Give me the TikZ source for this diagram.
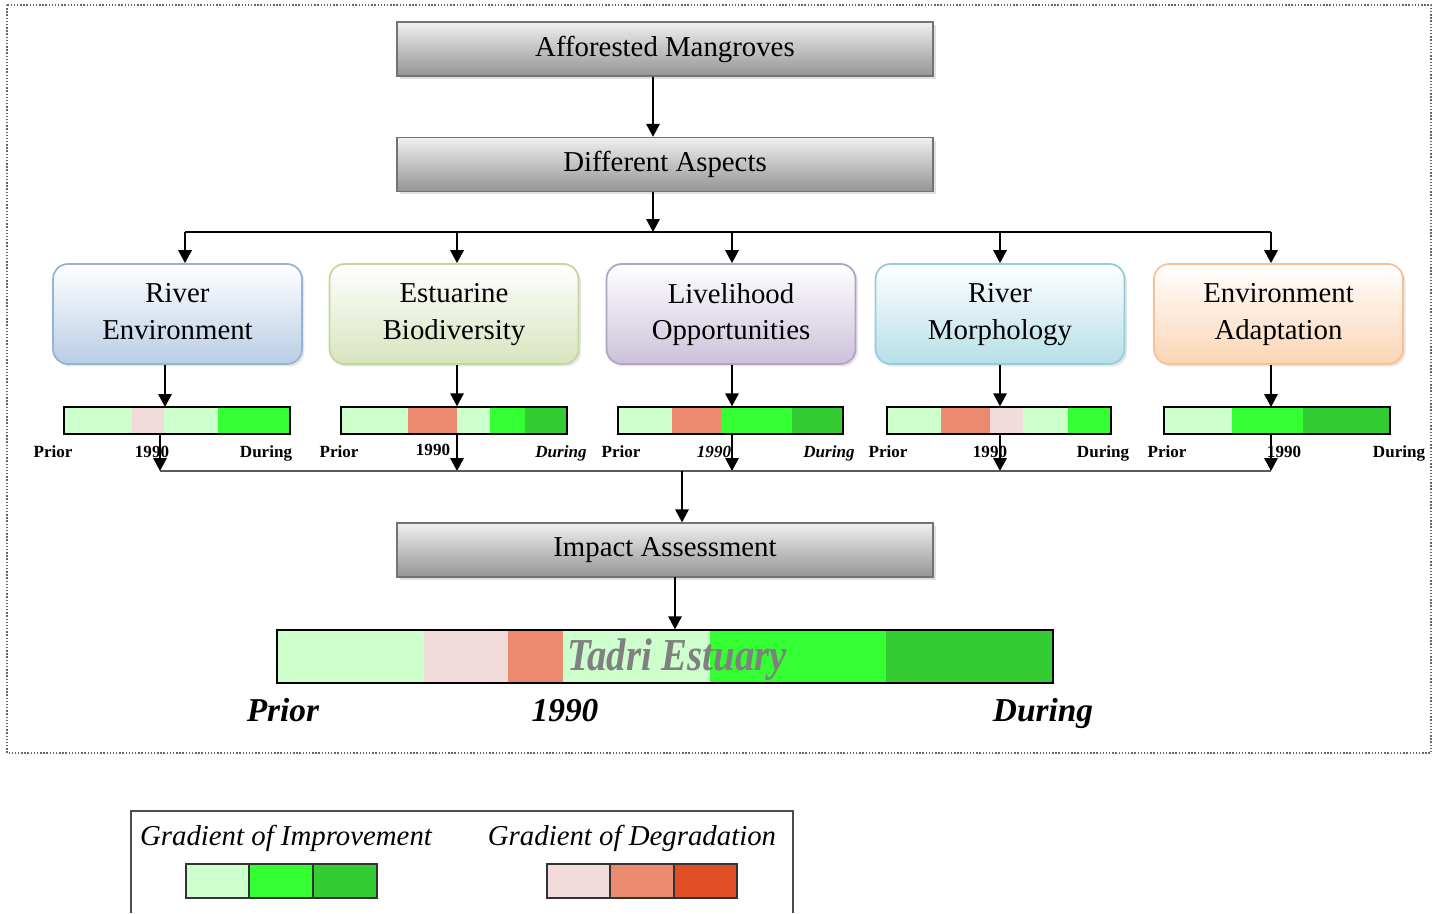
\documentclass[tikz,border=0pt]{standalone}
\usepackage{fontspec}
\setmainfont{Liberation Serif}
\usetikzlibrary{positioning,shadows,arrows.meta}

\definecolor{envline}{HTML}{95B3D7}
\definecolor{envfill}{HTML}{B9CDE5}
\definecolor{bioline}{HTML}{C3D69B}
\definecolor{biofill}{HTML}{D7E4BD}
\definecolor{livline}{HTML}{B3A2C7}
\definecolor{livfill}{HTML}{CCC1DA}
\definecolor{morline}{HTML}{93CDDD}
\definecolor{morfill}{HTML}{B7DEE8}
\definecolor{adaline}{HTML}{FAC090}
\definecolor{adafill}{HTML}{FCD5B5}
\definecolor{lgreen}{HTML}{CCFFCC}
\definecolor{mgreen}{HTML}{33FF33}
\definecolor{dgreen}{HTML}{33CC33}
\definecolor{lpink}{HTML}{F2DCDB}
\definecolor{salmon}{HTML}{EC8A6F}
\definecolor{dred}{HTML}{E04E25}

\tikzstyle{greybox} = [rectangle, draw=black!55, line width=0.8pt, top color=black!6, bottom color=black!42, minimum width=10.72cm, minimum height=1.08cm, font=\fontsize{16.4}{20}\selectfont, drop shadow={shadow xshift=0.06cm, shadow yshift=-0.06cm, opacity=0.25}]
\tikzstyle{aspect} = [rectangle, rounded corners=0.3cm, line width=1pt, top color=white, minimum width=4.98cm, minimum height=2cm, align=center, text depth=0.1cm, font=\fontsize{16.4}{21}\selectfont, drop shadow={shadow xshift=0.05cm, shadow yshift=-0.05cm, opacity=0.2}]
\tikzstyle{bar} = [rectangle, draw, line width=0.8pt, minimum height=0.54cm, inner sep=0pt]
\tikzstyle{lbl} = [font=\fontsize{9.7}{11}\selectfont\bfseries, inner sep=0pt, anchor=base]
\tikzstyle{biglbl} = [font=\fontsize{19}{22}\selectfont\bfseries\itshape, inner sep=0pt, anchor=base]
\tikzstyle{legtext} = [font=\fontsize{16.4}{20}\selectfont\itshape, inner sep=0pt, anchor=base]
\tikzstyle{swatch} = [draw=black!80, line width=0.8pt]
\tikzstyle{line} = [draw, line width=1pt, -{Triangle[length=0.26cm, width=0.27cm]}]

\begin{document}
\begin{tikzpicture}[x=0.02cm, y=-0.02cm]
	\useasboundingbox (0,0) rectangle (1435,913);
	\draw[black!60, densely dotted, line width=0.8pt] (7,5) rectangle (1431,753);
	
	\node [greybox] (mangroves) at (665,49) {Afforested Mangroves};
	\node [greybox] (aspects) at (665,164.5) {Different Aspects};
	
	\node [aspect, draw=envline, bottom color=envfill] (env) at (177.5,314) {River\\Environment};
	\node [aspect, draw=bioline, bottom color=biofill] (bio) at (454,314) {Estuarine\\Biodiversity};
	\node [aspect, draw=livline, bottom color=livfill] (liv) at (731,314) {Livelihood\\Opportunities};
	\node [aspect, draw=morline, bottom color=morfill] (morph) at (1000,314) {River\\Morphology};
	\node [aspect, draw=adaline, bottom color=adafill] (adapt) at (1278.5,314) {Environment\\Adaptation};
	
	\coordinate (hub) at (653,232);
	\coordinate (t1) at (185,232);
	\coordinate (t2) at (457,232);
	\coordinate (t3) at (732,232);
	\coordinate (t4) at (1000,232);
	\coordinate (t5) at (1271,232);
	
	\path[line] (mangroves.south -| hub) -- (aspects.north -| hub);
	\path[line] (aspects.south -| hub) -- (hub);
	\draw[line width=1pt] (t1) -- (t5);
	\path[line] (t1) -- (t1 |- env.north);
	\path[line] (t2) -- (t2 |- bio.north);
	\path[line] (t3) -- (t3 |- liv.north);
	\path[line] (t4) -- (t4 |- morph.north);
	\path[line] (t5) -- (t5 |- adapt.north);
	
	\fill[lgreen] (64,407) rectangle (132,434);
	\fill[lpink] (132,407) rectangle (164,434);
	\fill[lgreen] (164,407) rectangle (218,434);
	\fill[mgreen] (218,407) rectangle (290,434);
	\node [bar, minimum width=4.52cm] (bar1) at (177,420.5) {};
	
	\fill[lgreen] (341,407) rectangle (408,434);
	\fill[salmon] (408,407) rectangle (457,434);
	\fill[lgreen] (457,407) rectangle (490,434);
	\fill[mgreen] (490,407) rectangle (525,434);
	\fill[dgreen] (525,407) rectangle (567,434);
	\node [bar, minimum width=4.52cm] (bar2) at (454,420.5) {};
	
	\fill[lgreen] (618,407) rectangle (672,434);
	\fill[salmon] (672,407) rectangle (721,434);
	\fill[mgreen] (721,407) rectangle (792,434);
	\fill[dgreen] (792,407) rectangle (843,434);
	\node [bar, minimum width=4.5cm] (bar3) at (730.5,420.5) {};
	
	\fill[lgreen] (887,407) rectangle (941,434);
	\fill[salmon] (941,407) rectangle (990,434);
	\fill[lpink] (990,407) rectangle (1023,434);
	\fill[lgreen] (1023,407) rectangle (1068,434);
	\fill[mgreen] (1068,407) rectangle (1111,434);
	\node [bar, minimum width=4.48cm] (bar4) at (999,420.5) {};
	
	\fill[lgreen] (1164,407) rectangle (1232,434);
	\fill[mgreen] (1232,407) rectangle (1303,434);
	\fill[dgreen] (1303,407) rectangle (1390,434);
	\node [bar, minimum width=4.52cm] (bar5) at (1277,420.5) {};
	
	\coordinate (in1) at (165,407);
	\coordinate (in5) at (1271,407);
	\path[line] (env.south -| in1) -- (in1);
	\path[line] (bio.south -| t2) -- (bar2.north -| t2);
	\path[line] (liv.south -| t3) -- (bar3.north -| t3);
	\path[line] (morph.south -| t4) -- (bar4.north -| t4);
	\path[line] (adapt.south -| in5) -- (in5);
	
	\node [lbl] (prior1) at (53,457) {Prior};
	\node [lbl] (year1) at (152,457) {1990};
	\node [lbl] (during1) at (266,457) {During};
	\node [lbl] (prior2) at (339,457) {Prior};
	\node [lbl] (year2) at (433,455) {1990};
	\node [lbl, font=\fontsize{9.7}{11}\selectfont\bfseries\itshape] (during2) at (561,457) {During};
	\node [lbl] (prior3) at (621,457) {Prior};
	\node [lbl, font=\fontsize{9.7}{11}\selectfont\bfseries\itshape] (year3) at (714,457) {1990};
	\node [lbl, font=\fontsize{9.7}{11}\selectfont\bfseries\itshape] (during3) at (829,457) {During};
	\node [lbl] (prior4) at (888,457) {Prior};
	\node [lbl] (year4) at (990,457) {1990};
	\node [lbl] (during4) at (1103,457) {During};
	\node [lbl] (prior5) at (1167,457) {Prior};
	\node [lbl] (year5) at (1284,457) {1990};
	\node [lbl] (during5) at (1399,457) {During};
	
	\coordinate (b1) at (160,471);
	\coordinate (b2) at (457,471);
	\coordinate (b3) at (732,471);
	\coordinate (b4) at (1000,471);
	\coordinate (b5) at (1271,471);
	\coordinate (hub2) at (682,471);
	\path[line] (bar1.south -| b1) -- (b1);
	\path[line] (bar2.south -| b2) -- (b2);
	\path[line] (bar3.south -| b3) -- (b3);
	\path[line] (bar4.south -| b4) -- (b4);
	\path[line] (bar5.south -| b5) -- (b5);
	\draw[black!65, line width=1pt] (b1) -- (b5);
	
	\node [greybox] (impact) at (665,550) {Impact Assessment};
	\path[line] (hub2) -- (hub2 |- impact.north);
	
	\fill[lgreen] (277,630) rectangle (424,683);
	\fill[lpink] (424,630) rectangle (508,683);
	\fill[salmon] (508,630) rectangle (563,683);
	\fill[lgreen] (563,630) rectangle (710,683);
	\fill[mgreen] (710,630) rectangle (886,683);
	\fill[dgreen] (886,630) rectangle (1053,683);
	\node [bar, minimum width=15.52cm, minimum height=1.06cm] (tadri) at (665,656.5) {};
	\node [font=\fontsize{26}{28}\selectfont\bfseries\itshape, text=black!50, inner sep=0pt, anchor=base] (estuary) at (677,670) {\scalebox{0.85}[1]{Tadri Estuary}};
	\coordinate (drop) at (675,577);
	\path[line] (drop) -- (drop |- tadri.north);
	
	\node [biglbl] (prior) at (283,721) {Prior};
	\node [biglbl] (year) at (565,721) {1990};
	\node [biglbl] (during) at (1043,721) {During};
	
	\draw[black!70, line width=0.8pt] (131,913) -- (131,811) -- (793,811) -- (793,913);
	\node [legtext] (improve) at (286,845) {Gradient of Improvement};
	\node [legtext] (degrade) at (632,845) {Gradient of Degradation};
	\filldraw[swatch, fill=lgreen] (186,864) rectangle (249,898);
	\filldraw[swatch, fill=mgreen] (249,864) rectangle (313,898);
	\filldraw[swatch, fill=dgreen] (313,864) rectangle (377,898);
	\filldraw[swatch, fill=lpink] (547,864) rectangle (610,898);
	\filldraw[swatch, fill=salmon] (610,864) rectangle (674,898);
	\filldraw[swatch, fill=dred] (674,864) rectangle (737,898);
\end{tikzpicture}
\end{document}
